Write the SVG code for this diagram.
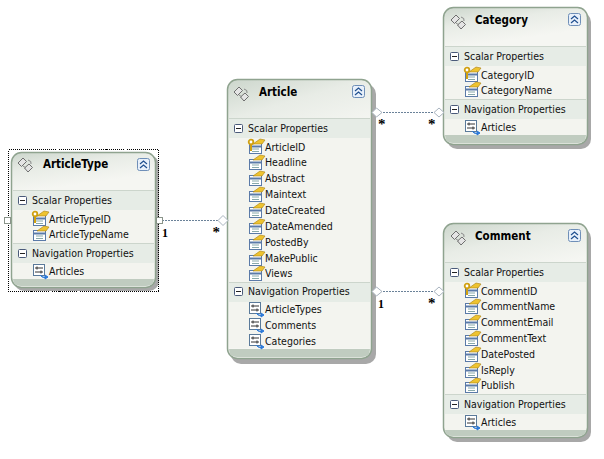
<svg xmlns="http://www.w3.org/2000/svg" width="604" height="459" viewBox="0 0 604 459">
<style>
text{font-family:"DejaVu Sans Condensed","Liberation Sans",sans-serif;font-size:10.500px;fill:#111}
.t{font-family:"DejaVu Sans Condensed","DejaVu Sans",sans-serif;font-size:11.500px;font-weight:bold;fill:#000}
.m{font-family:"Liberation Serif",serif;font-size:12px;font-weight:bold;fill:#000}
.s{font-family:"Liberation Serif",serif;font-size:15px;font-weight:bold;fill:#000}
.sh{fill:#a8a8a8}
.band{fill:#e6ece6}
.sep{stroke:#ccd5cc;stroke-width:1}
.foot{fill:#c0ccc0}
.frame{fill:url(#hd);stroke:#8fa38f;stroke-width:1.500}
.conn{fill:none;stroke:#6b8299;stroke-width:1;stroke-dasharray:2 1}
.dia{fill:#fff;stroke:#a9b4bf;stroke-width:1}
.sq{fill:#fff;stroke:#8a948a;stroke-width:1}
</style>
<defs>
<linearGradient id="hd" x1="0" y1="0" x2="0.15" y2="1"><stop offset="0" stop-color="#ccd6cc"/><stop offset="0.14" stop-color="#e8ece6"/><stop offset="0.3" stop-color="#f5f6f2"/></linearGradient>
<g id="min"><rect x="0.500" y="0.500" width="8" height="8" rx="1" fill="#fff" stroke="#4a5a7a"/><path d="M2 4.500H7" stroke="#222"/></g>
<g id="ent"><path d="M1 6L6 1L9.500 4.500L4.500 9.500Z M7.500 11L12 7L15.500 10.500L11 15Z" fill="#e4e4e4" stroke="#6e6e6e"/><path d="M6 9L9 11M11 3Q15 4 14 7" fill="none" stroke="#888"/></g>
<g id="col"><rect x="0.500" y="0.500" width="12" height="12" rx="2" fill="#e8f0fa" stroke="#6f8fb8"/><path d="M3 6L6.500 3L10 6M3 10L6.500 7L10 10" fill="none" stroke="#1f4f8f" stroke-width="1.200"/></g>
<g id="prop"><rect x="0.500" y="4.500" width="12" height="10" fill="#fff" stroke="#5a7aa8"/><path d="M1 7.500H12" stroke="#5a7aa8" stroke-width="2"/><path d="M3 10H10M3 12.500H10" stroke="#8aa"/><path d="M4 5L11 0L16 1L13 5Z" fill="#eec330" stroke="#a87f10" stroke-width="0.600"/></g>
<g id="key"><use href="#prop" x="1"/><circle cx="3" cy="3" r="2.300" fill="#fff" stroke="#d0a010" stroke-width="1.800"/><path d="M3 5.500V12" stroke="#d0a010" stroke-width="2"/></g>
<g id="nav"><rect x="0.500" y="0.500" width="11" height="11" fill="#fff" stroke="#5a7a9a"/><path d="M2 4H10M2 8H10" stroke="#333"/><path d="M4 2.500V5.500M8 6.500V9.500" stroke="#333"/><path d="M7 11Q9 14 12 13.500M12 11V15L15 13Z" fill="#2a78d8" stroke="#2a78d8"/></g>
</defs>

<g id="connectors">
<path class="conn" d="M162 220.500H218"/>
<path class="conn" d="M380 112.500H434"/>
<path class="conn" d="M380 291.500H434"/>
</g>

<g id="ArticleType">
<rect class="sh" x="14" y="155" width="145" height="136" rx="10"/>
<rect x="8.500" y="149.500" width="150" height="142" fill="none" stroke="#000" stroke-dasharray="1 1" shape-rendering="crispEdges"/>
<rect class="frame" x="11.500" y="152.500" width="144" height="135" rx="10"/>
<rect x="13" y="190" width="141" height="89" fill="#f3f4ef"/>
<rect class="band" x="13" y="190" width="141" height="20"/>
<rect class="band" x="13" y="243" width="141" height="20"/>
<path class="sep" d="M13 190.500H154M13 243.500H154"/>
<path class="foot" d="M13 279H154Q154 286 146 286H21Q13 286 13 279Z"/>
<rect class="sq" x="4.500" y="217.500" width="6" height="6"/>
<rect class="sq" x="156.500" y="217.500" width="6" height="6"/>
<use href="#ent" x="17" y="157"/><use href="#col" x="137" y="158"/>
<text class="t" x="43" y="168">ArticleType</text>
<use href="#min" x="18" y="196"/><text x="32" y="204">Scalar Properties</text>
<use href="#key" x="32" y="211"/><text x="49" y="223">ArticleTypeID</text>
<use href="#prop" x="33" y="226"/><text x="49" y="238">ArticleTypeName</text>
<use href="#min" x="18" y="249"/><text x="32" y="257">Navigation Properties</text>
<use href="#nav" x="33" y="264"/><text x="49" y="275">Articles</text>
</g>

<g id="Article">
<rect class="sh" x="231" y="84" width="145" height="280" rx="10"/>
<rect class="frame" x="227.500" y="79.500" width="144" height="279" rx="10"/>
<rect x="229" y="118" width="141" height="230" fill="#f3f4ef"/>
<rect class="band" x="229" y="118" width="141" height="20"/>
<rect class="band" x="229" y="282" width="141" height="20"/>
<path class="sep" d="M229 118.500H370M229 282.500H370"/>
<path class="foot" d="M229 349H370Q370 357 362 357H237Q229 357 229 349Z"/>
<use href="#ent" x="233" y="86"/><use href="#col" x="352" y="85"/>
<text class="t" x="259" y="96">Article</text>
<use href="#min" x="234" y="124"/><text x="248" y="132">Scalar Properties</text>
<use href="#key" x="248" y="139"/><text x="265" y="151">ArticleID</text>
<use href="#prop" x="249" y="155"/><text x="265" y="166">Headline</text>
<use href="#prop" x="249" y="171"/><text x="265" y="182">Abstract</text>
<use href="#prop" x="249" y="187"/><text x="265" y="198">Maintext</text>
<use href="#prop" x="249" y="203"/><text x="265" y="214">DateCreated</text>
<use href="#prop" x="249" y="219"/><text x="265" y="230">DateAmended</text>
<use href="#prop" x="249" y="235"/><text x="265" y="246">PostedBy</text>
<use href="#prop" x="249" y="251"/><text x="265" y="262">MakePublic</text>
<use href="#prop" x="249" y="266"/><text x="265" y="277">Views</text>
<use href="#min" x="234" y="287"/><text x="248" y="295">Navigation Properties</text>
<use href="#nav" x="249" y="302"/><text x="265" y="313">ArticleTypes</text>
<use href="#nav" x="249" y="318"/><text x="265" y="329">Comments</text>
<use href="#nav" x="249" y="334"/><text x="265" y="345">Categories</text>
</g>

<g id="Category">
<rect class="sh" x="447" y="12" width="144" height="137" rx="10"/>
<rect class="frame" x="443.500" y="7.500" width="144" height="137" rx="10"/>
<rect x="445" y="46" width="141" height="89" fill="#f3f4ef"/>
<rect class="band" x="445" y="46" width="141" height="20"/>
<rect class="band" x="445" y="99" width="141" height="20"/>
<path class="sep" d="M445 46.500H586M445 99.500H586"/>
<path class="foot" d="M445 135H586Q586 143 578 143H453Q445 143 445 135Z"/>
<use href="#ent" x="450" y="14"/><use href="#col" x="568" y="13"/>
<text class="t" x="475" y="24">Category</text>
<use href="#min" x="450" y="52"/><text x="464" y="60">Scalar Properties</text>
<use href="#key" x="464" y="67"/><text x="481" y="79">CategoryID</text>
<use href="#prop" x="465" y="82"/><text x="481" y="94">CategoryName</text>
<use href="#min" x="450" y="105"/><text x="464" y="113">Navigation Properties</text>
<use href="#nav" x="465" y="120"/><text x="481" y="131">Articles</text>
</g>

<g id="Comment">
<rect class="sh" x="447" y="228" width="144" height="214" rx="10"/>
<rect class="frame" x="443.500" y="223.500" width="144" height="214" rx="10"/>
<rect x="445" y="262" width="141" height="168" fill="#f3f4ef"/>
<rect class="band" x="445" y="262" width="141" height="20"/>
<rect class="band" x="445" y="394" width="141" height="20"/>
<path class="sep" d="M445 262.500H586M445 394.500H586"/>
<path class="foot" d="M445 430H586Q586 436 578 436H453Q445 436 445 430Z"/>
<use href="#ent" x="450" y="230"/><use href="#col" x="568" y="229"/>
<text class="t" x="475" y="240">Comment</text>
<use href="#min" x="450" y="268"/><text x="464" y="276">Scalar Properties</text>
<use href="#key" x="464" y="283"/><text x="481" y="295">CommentID</text>
<use href="#prop" x="465" y="299"/><text x="481" y="310">CommentName</text>
<use href="#prop" x="465" y="315"/><text x="481" y="326">CommentEmail</text>
<use href="#prop" x="465" y="331"/><text x="481" y="342">CommentText</text>
<use href="#prop" x="465" y="347"/><text x="481" y="358">DatePosted</text>
<use href="#prop" x="465" y="363"/><text x="481" y="374">IsReply</text>
<use href="#prop" x="465" y="378"/><text x="481" y="389">Publish</text>
<use href="#min" x="450" y="400"/><text x="464" y="408">Navigation Properties</text>
<use href="#nav" x="465" y="415"/><text x="481" y="426">Articles</text>
</g>

<g id="ends">
<path class="dia" d="M218 220.500L223 215.500L228 220.500L223 225.500Z"/>
<path class="dia" d="M372 112.500L376.500 108L382 112.500L376.500 117Z"/>
<path class="dia" d="M434 112.500L439 108L444 112.500L439 117Z"/>
<path class="dia" d="M372 291.500L376.500 287L382 291.500L376.500 296Z"/>
<path class="dia" d="M434 291.500L439 287L444 291.500L439 296Z"/>
<text class="m" x="162" y="237">1</text>
<text class="s" x="212.500" y="237">*</text>
<text class="s" x="378" y="129">*</text>
<text class="s" x="428" y="129">*</text>
<text class="m" x="378" y="308">1</text>
<text class="s" x="428" y="308">*</text>
</g>
</svg>
